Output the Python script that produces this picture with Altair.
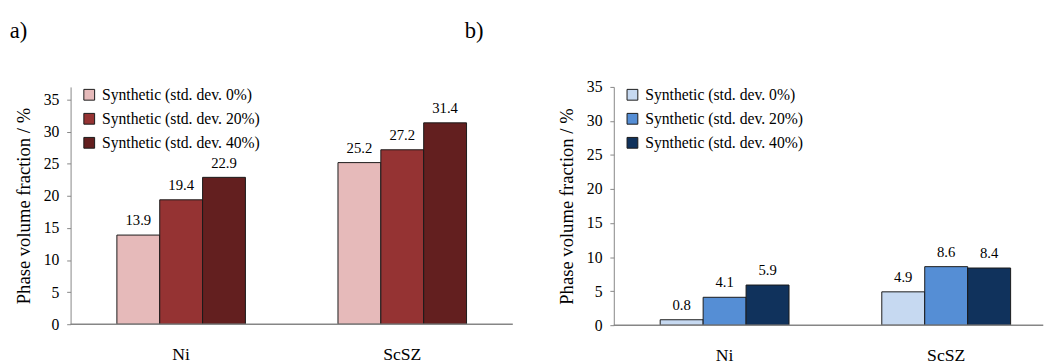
import altair as alt
import pandas as pd

# ---- data ----
categories = ["Ni", "ScSZ"]
series = ["Synthetic (std. dev. 0%)", "Synthetic (std. dev. 20%)", "Synthetic (std. dev. 40%)"]
a_ni = [13.9, 19.4, 22.9]
a_scsz = [25.2, 27.2, 31.4]
b_ni = [0.8, 4.1, 5.9]
b_scsz = [4.9, 8.6, 8.4]
y_ticks = [0, 5, 10, 15, 20, 25, 30, 35]
colors_a = ["#E6BABA", "#953333", "#631F1F"]
colors_b = ["#C6D9F1", "#558ED5", "#10325C"]
panel_labels = ["a)", "b)"]
y_title = "Phase volume fraction / %"

FONT = "Liberation Serif"
AXIS_GRAY = "#868686"


def make_df(ni, scsz):
    rows = []
    for cat, vals in zip(categories, [ni, scsz]):
        for s, v in zip(series, vals):
            rows.append({"cat": cat, "series": s, "value": v})
    return pd.DataFrame(rows)


def y_axis():
    return alt.Axis(values=y_ticks, title=y_title, grid=False, tickSize=4,
                    labelPadding=8, titlePadding=10, labelFontSize=16,
                    labelFont=FONT, titleFont=FONT, labelOverlap=False,
                    titleFontSize=19, titleFontWeight="normal",
                    domainColor=AXIS_GRAY, tickColor=AXIS_GRAY,
                    labelColor="black", titleColor="black")


def panel(df, colors, ymax, width, height, xrange=None):
    xs = dict(domain=categories, paddingInner=0.031, paddingOuter=0.0155)
    if xrange is not None:
        xs["range"] = xrange
    yscale = alt.Scale(domain=[0, ymax], nice=False, zero=True)
    base = alt.Chart(df).encode(
        x=alt.X("cat:N", sort=categories, scale=alt.Scale(**xs),
                axis=alt.Axis(title=None, labelAngle=0, domain=False, ticks=False,
                              labelPadding=22, labelFontSize=18, labelFont=FONT,
                              labelColor="black")),
        xOffset=alt.XOffset("series:N", sort=series,
                            scale=alt.Scale(domain=series, paddingInner=0, paddingOuter=1)),
        y=alt.Y("value:Q", scale=yscale, axis=y_axis()),
    )
    bars = base.mark_bar(stroke="#1a1a1a", strokeWidth=1).encode(
        color=alt.Color("series:N", sort=series,
                        scale=alt.Scale(domain=series, range=colors),
                        legend=alt.Legend(title=None, orient="none", legendX=11, legendY=0,
                                          symbolType="square", symbolSize=121,
                                          symbolStrokeColor="#1a1a1a", symbolStrokeWidth=1,
                                          labelFontSize=16, labelFont=FONT, labelColor="black",
                                          labelOffset=5, rowPadding=8.5, labelLimit=400,
                                          padding=0))
    )
    labels = base.mark_text(baseline="alphabetic", dy=-10, fontSize=15, font=FONT,
                            color="black").encode(
        text=alt.Text("value:Q", format=".1f")
    )
    rule = alt.Chart(pd.DataFrame({"z": [0]})).mark_rule(
        color=AXIS_GRAY, strokeWidth=1.5).encode(
        y=alt.Y(datum=0, type="quantitative", scale=yscale, axis=y_axis()))
    return alt.layer(bars, labels, rule).properties(width=width, height=height)


df_a = make_df(a_ni, a_scsz)
df_b = make_df(b_ni, b_scsz)

left = panel(df_a, colors_a, 37, 451, 242)
tag_a = alt.Chart(pd.DataFrame({"t": [panel_labels[0]]})).mark_text(
    align="left", baseline="middle", fontSize=23, font=FONT, color="black").encode(
    text="t:N", x=alt.value(-62), y=alt.value(-57))
tag_b = alt.Chart(pd.DataFrame({"t": [panel_labels[1]]})).mark_text(
    align="left", baseline="middle", fontSize=23, font=FONT, color="black").encode(
    text="t:N", x=alt.value(402), y=alt.value(-57))
left = alt.layer(left, tag_a, tag_b)

right = panel(df_b, colors_b, 35, 438, 243, xrange=[0, 452])

chart = alt.hconcat(left, right, spacing=45).resolve_scale(
    color="independent", x="independent", y="independent", xOffset="independent"
).properties(
    padding={"left": 10, "top": 17, "right": 0, "bottom": 0}
).configure(font=FONT).configure_view(stroke=None)

chart.save("out.html", embed_options={"renderer": "svg", "actions": False})
